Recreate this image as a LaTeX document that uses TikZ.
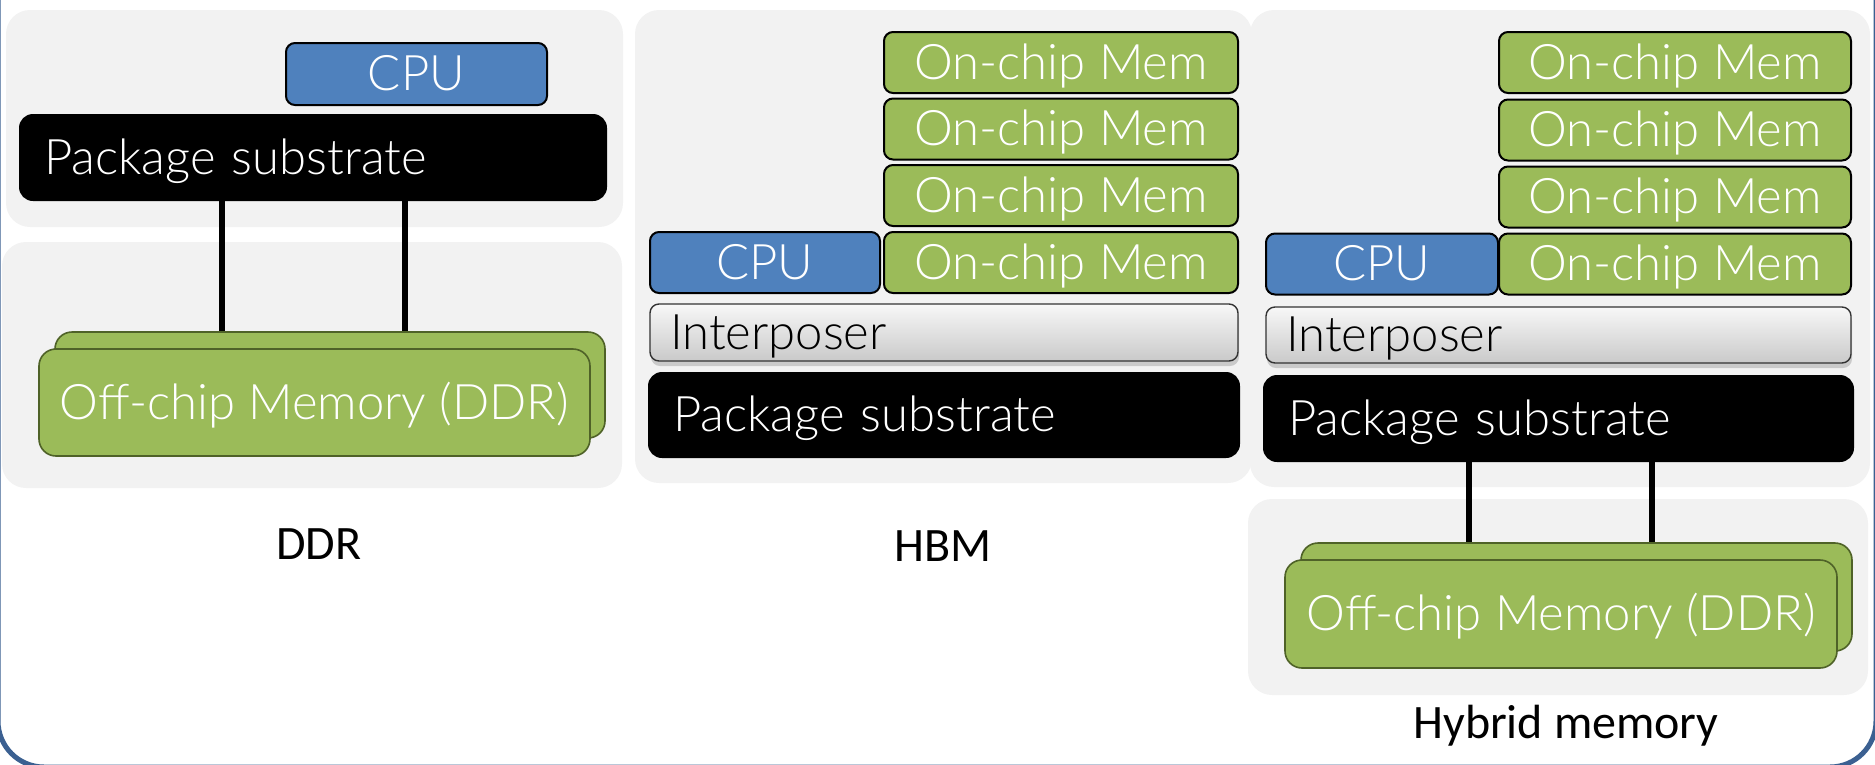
\documentclass[tikz,border=0pt]{standalone}
\usepackage{fontspec}
\setmainfont{Carlito}
\newfontfamily\lightfam{Lato}[UprightFont=* Light]
\usetikzlibrary{shadows}

\definecolor{panelgray}{HTML}{F2F2F2}
\definecolor{chipgreen}{HTML}{9BBB59}
\definecolor{chipblue}{HTML}{4F81BD}
\definecolor{olivedark}{HTML}{4F6228}
\definecolor{frameblue}{HTML}{3B6091}

\newcommand\chipfont{\lightfam\fontsize{49}{58}\selectfont}
\newcommand\capfont{\fontsize{48}{56}\selectfont}

\tikzset{
  panel/.style={fill=panelgray, rounded corners=24pt},
  chip/.style={draw=black, line width=2pt, rounded corners=9pt, text=white,
    font=\chipfont, inner sep=0pt, text height=33.5pt, text depth=0pt, align=center},
  cpubox/.style={chip, fill=chipblue},
  membox/.style={chip, fill=chipgreen},
  offchip/.style={draw=olivedark, line width=1.6pt, fill=chipgreen, rounded corners=17pt,
    text=white, font=\chipfont, inner sep=0pt, text height=33.5pt, text depth=0pt},
  substrate/.style={fill=black, rounded corners=14pt, text=white, font=\chipfont,
    inner ysep=0pt, inner xsep=25pt, align=left, text height=33.5pt, text depth=0pt},
  interposer/.style={rounded corners=9pt, draw=black!80, line width=1.4pt,
    top color=gray!6, bottom color=gray!42,
    drop shadow={shadow xshift=1pt, shadow yshift=-5pt, opacity=0.35},
    font=\chipfont, inner ysep=0pt, inner xsep=20pt, align=left,
    text height=33.5pt, text depth=0pt},
  wire/.style={line width=5.5pt, black},
  caption/.style={font=\capfont, inner sep=0pt, text height=31pt, text depth=0pt}
}

\begin{document}
\begin{tikzpicture}[x=1pt, y=-1pt]
\useasboundingbox (0,0) rectangle (1875,764);

% outer frame
\draw[frameblue, line width=5pt, rounded corners=46pt] (-2,-80) rectangle (1876,767);

% ---------------- DDR ----------------
\fill[panel] (6,10) rectangle (623,227);
\fill[panel] (2,242) rectangle (622,488);

\node[cpubox, minimum width=261pt, minimum height=62pt] (cpuA) at (416.5,74) {CPU};
\node[substrate, minimum height=87pt, text width=538pt] (pkgA) at (313,157.5) {Package substrate};

\node[offchip, minimum width=550pt, minimum height=106pt] (offbackA) at (330,385) {};
\node[offchip, minimum width=551pt, minimum height=107pt] (offA) at (314.5,402.5) {Off-chip Memory (DDR)};

\coordinate (tapA1) at (222,0);
\coordinate (tapA2) at (405,0);
\draw[wire] (pkgA.south -| tapA1) -- (offbackA.north -| tapA1);
\draw[wire] (pkgA.south -| tapA2) -- (offbackA.north -| tapA2);

\node[caption] (capA) at (319,544) {DDR};

% ---------------- HBM ----------------
\fill[panel] (635,10) rectangle (1252,483);

\node[membox, minimum width=354pt, minimum height=61pt] (memB1) at (1061,62.5) {On-chip Mem};
\node[membox, minimum width=354pt, minimum height=61pt] (memB2) at (1061,129) {On-chip Mem};
\node[membox, minimum width=354pt, minimum height=61pt] (memB3) at (1061,195.5) {On-chip Mem};
\node[membox, minimum width=354pt, minimum height=61pt] (memB4) at (1061,262.5) {On-chip Mem};
\node[cpubox, minimum width=230pt, minimum height=61pt] (cpuB) at (765,262.5) {CPU};
\node[interposer, minimum height=57pt, text width=548pt] (intB) at (944,332.5) {Interposer};
\node[substrate, minimum height=86pt, text width=542pt] (pkgB) at (944,415) {Package substrate};

\node[caption] (capB) at (943,546) {HBM};

% ---------------- Hybrid ----------------
\fill[panel] (1250,10) rectangle (1870,487);
\fill[panel] (1248,499) rectangle (1868,695);

\node[membox, minimum width=352pt, minimum height=61pt] (memC1) at (1675,62.5) {On-chip Mem};
\node[membox, minimum width=352pt, minimum height=61pt] (memC2) at (1675,130) {On-chip Mem};
\node[membox, minimum width=352pt, minimum height=61pt] (memC3) at (1675,197) {On-chip Mem};
\node[membox, minimum width=352pt, minimum height=61pt] (memC4) at (1675,264) {On-chip Mem};
\node[cpubox, minimum width=232pt, minimum height=61pt] (cpuC) at (1382,264) {CPU};
\node[interposer, minimum height=56pt, text width=545pt] (intC) at (1558.5,335) {Interposer};
\node[substrate, minimum height=87pt, text width=541pt] (pkgC) at (1558.5,418.5) {Package substrate};

\node[offchip, minimum width=551pt, minimum height=108pt] (offbackC) at (1576.5,597) {};
\node[offchip, minimum width=552pt, minimum height=108pt] (offC) at (1561,614) {Off-chip Memory (DDR)};

\coordinate (tapC1) at (1469,0);
\coordinate (tapC2) at (1652,0);
\draw[wire] (pkgC.south -| tapC1) -- (offbackC.north -| tapC1);
\draw[wire] (pkgC.south -| tapC2) -- (offbackC.north -| tapC2);

\node[caption] (capC) at (1566,723) {Hybrid memory};
\end{tikzpicture}
\end{document}
